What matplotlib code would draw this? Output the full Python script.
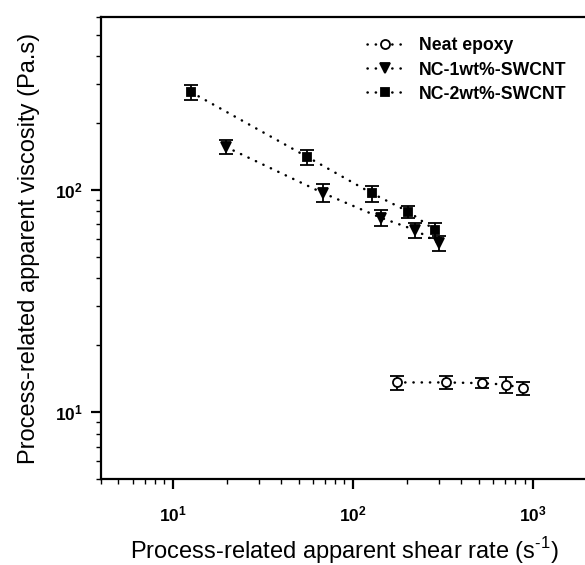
import numpy as np
import matplotlib
matplotlib.use('Agg')
import matplotlib.pyplot as plt

plt.rcParams.update({
    'font.family': ['Liberation Sans', 'DejaVu Sans'],
    'mathtext.fontset': 'custom',
    'mathtext.rm': 'Liberation Sans',
    'mathtext.bf': 'Liberation Sans:bold',
    'xtick.labelsize': 12.5,
    'ytick.labelsize': 12.5,
})

# data (shear rate [1/s], viscosity [Pa.s], error)
neat_x = [176, 330, 521, 708, 881]
neat_y = [13.6, 13.6, 13.5, 13.3, 12.8]
neat_err = [1.0, 0.9, 0.7, 1.1, 0.8]

nc1_x = [19.8, 68, 143, 222, 303]
nc1_y = [156, 97, 75, 66, 57.5]
nc1_err = [11, 9, 6, 5, 4.5]

nc2_x = [12.7, 55.7, 127.6, 204, 286]
nc2_y = [275, 141, 96.6, 79.8, 66]
nc2_err = [22, 11, 8, 5, 5]

labels = ['Neat epoxy', 'NC-1wt%-SWCNT', 'NC-2wt%-SWCNT']

fig = plt.figure(figsize=(5.85, 5.65), dpi=100)
ax = fig.add_axes([101/585, 1 - 479/565, 486/585, 462/565])

series = [
    (neat_x, neat_y, neat_err, 'o', 'white', 6.5),
    (nc1_x, nc1_y, nc1_err, 'v', 'black', 7),
    (nc2_x, nc2_y, nc2_err, 's', 'black', 6),
]
for (x, y, e, m, fc, ms), lab in zip(series, labels):
    ax.errorbar(x, y, yerr=e, fmt=m, ls=(0, (0.1, 3.2)), color='black',
                mfc=fc, mec='black', ms=ms, mew=1.3, lw=1.8,
                dash_capstyle='round', elinewidth=1.3, capsize=5,
                capthick=2, label=lab)

ax.set_xscale('log')
ax.set_yscale('log')
ax.set_xlim(4, 2000)
ax.set_ylim(5, 600)

ax.set_xticks([10, 100, 1000])
ax.set_xticklabels([r'$\mathbf{10^{1}}$', r'$\mathbf{10^{2}}$', r'$\mathbf{10^{3}}$'])
ax.set_yticks([10, 100])
ax.set_yticklabels([r'$\mathbf{10^{1}}$', r'$\mathbf{10^{2}}$'])

for s in ['left', 'bottom', 'top', 'right']:
    ax.spines[s].set_linewidth(1.6)
ax.tick_params(which='major', direction='out', length=7, width=1.6,
               top=False, right=False)
ax.tick_params(axis='x', which='major', pad=11)
ax.tick_params(axis='y', which='major', pad=6)
ax.tick_params(which='minor', direction='out', length=3.5, width=1.0,
               top=False, right=False, labelbottom=False, labelleft=False)

ax.set_xlabel(r'Process-related apparent shear rate (s$^{\text{-1}}$)', fontsize=17,
              labelpad=8)
ax.set_ylabel('Process-related apparent viscosity (Pa.s)', fontsize=17,
              labelpad=11)

# legend without error bars
handles, labs = ax.get_legend_handles_labels()
handles = [h[0] for h in handles]
leg = ax.legend(handles, labs, loc='upper right', bbox_to_anchor=(0.99, 0.99),
                frameon=False, numpoints=1, handlelength=2.0, handletextpad=0.9,
                prop={'weight': 'bold', 'size': 12.7}, labelspacing=0.4)

fig.savefig('out.png', dpi=100)
